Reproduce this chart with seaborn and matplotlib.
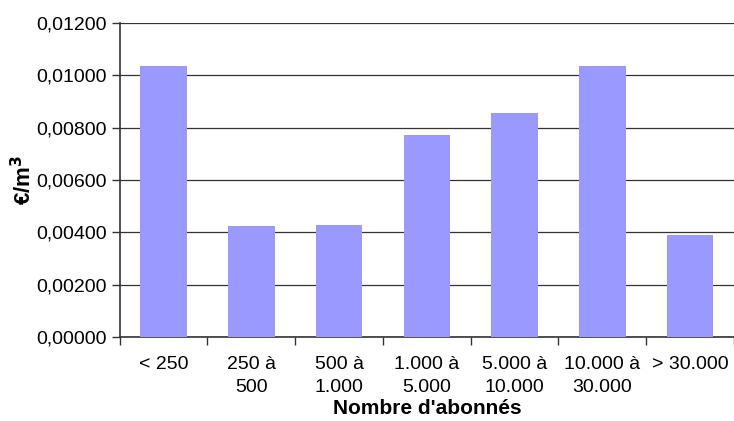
import numpy as np
import pandas as pd
import matplotlib
matplotlib.use('Agg')
import matplotlib.pyplot as plt
from matplotlib.ticker import FuncFormatter, FixedLocator
import seaborn as sns

categories = ['< 250', '250 à\n500', '500 à\n1.000', '1.000 à\n5.000',
              '5.000 à\n10.000', '10.000 à\n30.000', '> 30.000']
values = [0.01036, 0.00424, 0.00428, 0.00772, 0.00856, 0.01036, 0.00390]
yticks = [0, 0.002, 0.004, 0.006, 0.008, 0.010, 0.012]

sns.set_style('white')
plt.rcParams['font.family'] = ['Liberation Sans', 'DejaVu Sans']
plt.rcParams['text.color'] = 'black'
plt.rcParams['axes.labelcolor'] = 'black'
plt.rcParams['xtick.color'] = 'black'
plt.rcParams['ytick.color'] = 'black'

df = pd.DataFrame({'cat': categories, 'val': values})

fig = plt.figure(figsize=(7.34, 4.21), dpi=100)
ax = fig.add_axes([0.163, 0.1995, 0.837, 0.7455])
sns.barplot(data=df, x='cat', y='val', color='#9999FF', saturation=1,
            width=0.53, linewidth=0, ax=ax, zorder=3)

ax.set_xlim(-0.5, 6.5)
ax.set_ylim(0, 0.012)
ax.yaxis.set_major_locator(FixedLocator(yticks))
ax.yaxis.set_major_formatter(FuncFormatter(lambda v, p: f'{v:.5f}'.replace('.', ',')))
ax.grid(axis='y', color='#333333', linewidth=0.9, zorder=0)
ax.set_axisbelow(True)

# ticks between categories, like excel
ax.set_xticks(np.arange(-0.5, 7, 1), minor=True)
ax.tick_params(axis='x', which='major', length=0, pad=14, labelsize=14)
ax.tick_params(axis='x', which='minor', length=6, width=1, color='#333333', direction='out')
ax.tick_params(axis='y', length=6, width=1, color='#333333', direction='out', labelsize=14, pad=3)
ax.yaxis.set_ticks_position('left')
ax.xaxis.set_ticks_position('bottom')
for lbl in ax.get_xticklabels():
    lbl.set_linespacing(1.45)

sns.despine(ax=ax, top=True, right=True)
for s in ['left', 'bottom']:
    ax.spines[s].set_color('#333333')
    ax.spines[s].set_linewidth(1.2)

ax.set_xlabel("Nombre d'abonnés", fontsize=15, fontweight='bold', labelpad=2)
ax.set_ylabel('€/m$^{\\mathbf{3}}$', fontsize=16, fontweight='bold', labelpad=0)

fig.savefig('out.png', dpi=100)
